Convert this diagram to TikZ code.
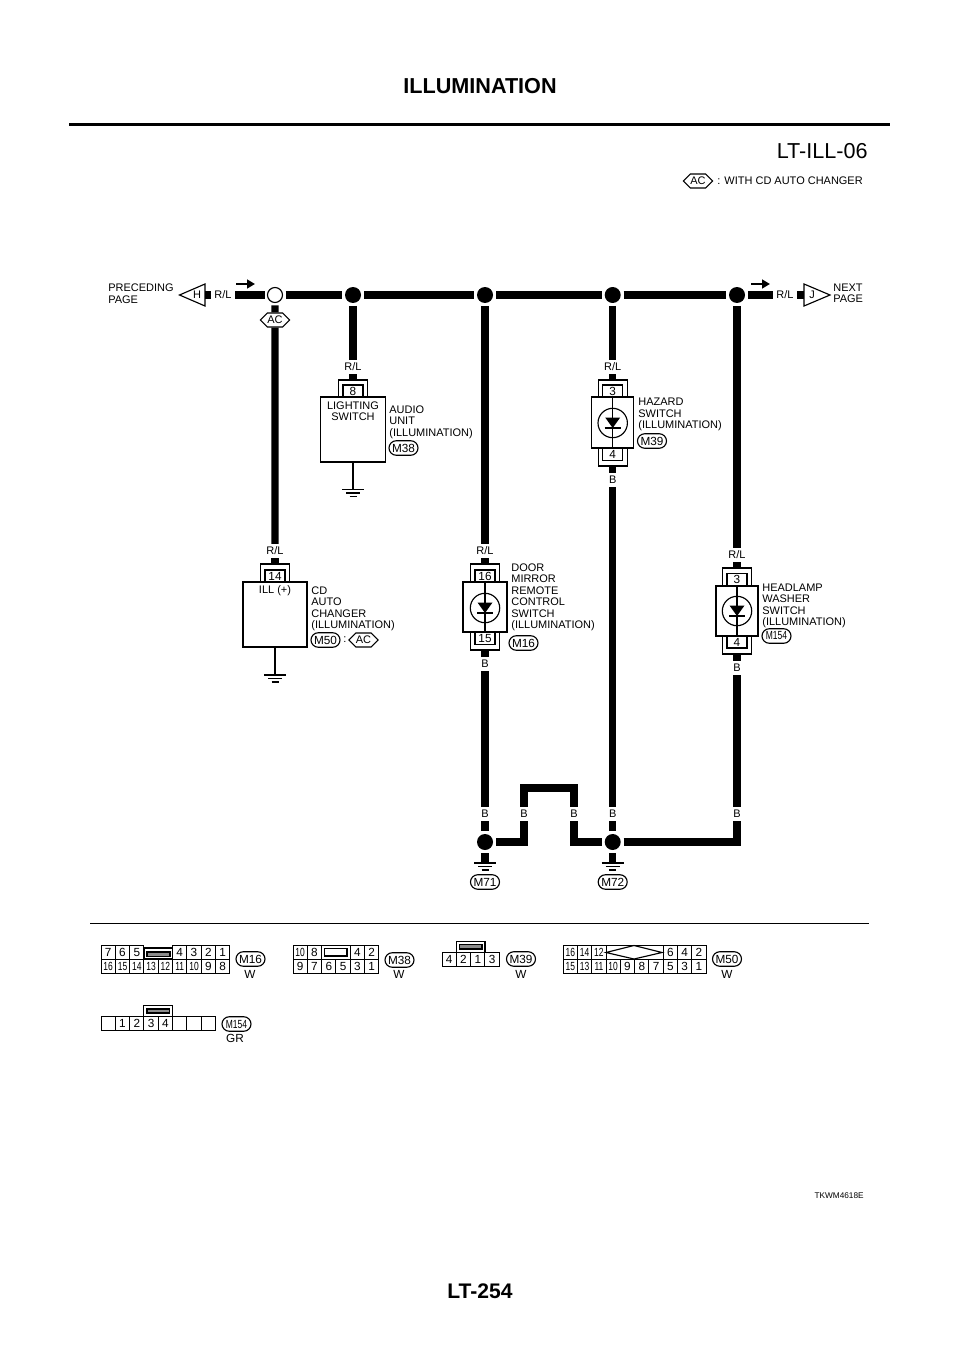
\documentclass[tikz,border=0pt]{standalone}
\usepackage{fontspec}
\setmainfont{Liberation Sans}
\usetikzlibrary{arrows.meta}
\usetikzlibrary{shapes.misc}
\usetikzlibrary{shapes.symbols}

\newcommand{\nar}[1]{\scalebox{0.72}[1]{#1}}

\tikzset{
  wire/.style={line width=4pt},
  conline/.style={line width=0.65pt},
  txt/.style={font=\fontsize{6.25}{6.55}\selectfont, inner sep=0pt},
  digit/.style={font=\fontsize{6.7}{7}\selectfont, inner sep=0pt},
  multi/.style={txt, align=left, anchor=north west},
  lbl/.style={txt, minimum width=0.48cm, minimum height=0.27cm},
  junc/.style={circle, fill=black, inner sep=0pt, minimum size=0.32cm, outer sep=0.06cm},
  juncopen/.style={circle, draw, fill=white, line width=0.65pt, inner sep=0pt, minimum size=0.3cm, outer sep=0.06cm},
  pill/.style={rounded rectangle, draw, conline, digit, minimum width=0.58cm, minimum height=0.29cm},
  hexa/.style={signal, signal to=west and east, signal pointer angle=90, draw, conline, txt, minimum width=0.58cm, minimum height=0.28cm},
  pin/.style={draw, conline, digit, minimum width=0.4cm, minimum height=0.24cm},
  unit/.style={draw, conline, inner sep=0pt},
  cell/.style={draw, line width=0.55pt, digit, minimum width=0.286cm, minimum height=0.28cm},
  smallarrow/.style={line width=1.1pt, -{Triangle[length=4.5pt,width=5pt]}},
}

\newcommand{\bracketup}[1]{\draw[conline] (#1) ++(-14.5,17.5) -- ++(0,-17.5) -- ++(29,0) -- ++(0,17.5);}
\newcommand{\bracketdown}[1]{\draw[conline] (#1) ++(-14.5,-17.5) -- ++(0,17.5) -- ++(29,0) -- ++(0,-17.5);}
\newcommand{\gndbars}[1]{\draw[conline] (#1) ++(-11,0) -- ++(22,0) ++(-18,3.5) -- ++(14,0) ++(-10.5,3.5) -- ++(7,0);}
\newcommand{\diode}[1]{
  \draw[conline] (#1) circle [radius=14.7];
  \fill (#1) ++(-7.5,-5.5) -- ++(15,0) -- ++(-7.5,10.5) -- cycle;
  \draw[line width=1pt] (#1) ++(-8,5.2) -- ++(16,0);
}

\begin{document}
\begin{tikzpicture}[x=0.02cm,y=-0.02cm]
\useasboundingbox (0,0) rectangle (960,1358);

% page head and foot
\node[font=\fontsize{12.3}{14}\selectfont\bfseries, inner sep=0pt] (title) at (480,86) {ILLUMINATION};
\draw[line width=1.7pt] (69,124.5)--(890,124.5);
\node[font=\fontsize{12.3}{14}\selectfont, inner sep=0pt, anchor=east] (sheet) at (868,151) {LT-ILL-06};
\node[hexa] (acKey) at (698,181) {AC};
\node[txt, anchor=west] (acText) at (717,181) {: WITH CD AUTO CHANGER};
\node[font=\fontsize{12}{14}\selectfont\bfseries, inner sep=0pt] (pageno) at (480,1291) {LT-254};
\node[font=\fontsize{4.7}{5}\selectfont, inner sep=0pt, anchor=east] (code) at (864,1196) {TKWM4618E};

% junctions
\node[juncopen] (jA) at (275,295) {};
\node[junc] (jB) at (353,295) {};
\node[junc] (jC) at (485,295) {};
\node[junc] (jD) at (612.7,295) {};
\node[junc] (jE) at (737,295) {};
\node[junc] (jF) at (485,842) {};
\node[junc] (jG) at (612.7,842) {};

% page connectors
\node[txt] (conH) at (197,295) {H};
\coordinate (baseH) at (205,295);
\draw[conline] (205,284)--(179.5,295)--(205,306)--cycle;
\node[txt, align=left, anchor=west] (prevPage) at (108,293.5) {PRECEDING\\PAGE};
\node[lbl] (rlH) at (223,295) {R/L};
\node[txt] (conJ) at (812,295) {J};
\coordinate (baseJ) at (804,295);
\draw[conline] (804,284)--(830,295)--(804,306)--cycle;
\node[txt, align=left, anchor=west] (nextPage) at (833,293.5) {NEXT\\PAGE};
\node[lbl] (rlJ) at (785,295) {R/L};

\coordinate (arrA) at (236,284);
\coordinate (arrB) at (255,284);
\coordinate (arrC) at (751,284);
\coordinate (arrD) at (770,284);
\draw[smallarrow] (arrA)--(arrB);
\draw[smallarrow] (arrC)--(arrD);

% CD changer
\node[hexa] (acA) at (275,320) {AC};
\node[lbl] (rlA) at (275,551) {R/L};
\coordinate (topM50) at (275,564);
\node[pin] (pin14) at (275,576) {14};
\node[unit, minimum width=1.28cm, minimum height=1.3cm] (boxM50) at (275,614.5) {};
\node[txt] (illPlus) at (275,591) {ILL (+)};
\node[multi] (nameM50) at (311,586) {CD\\AUTO\\CHANGER\\(ILLUMINATION)};
\node[pill] (pillM50) at (325.5,640) {M50};
\node[txt] (colon) at (345,640) {:};
\node[hexa] (acB) at (363.5,640) {AC};
\coordinate (gndM50) at (275,675);
\bracketup{topM50}
\draw[conline] (boxM50.south)--(gndM50);
\gndbars{gndM50}

% audio unit
\node[lbl] (rlB) at (353,367) {R/L};
\coordinate (topM38) at (353,380);
\node[pin] (pin8) at (353,391) {8};
\node[unit, minimum width=1.3cm, minimum height=1.3cm] (boxM38) at (353,429.5) {};
\node[txt, align=center, anchor=north] (nameSwitch) at (353,401) {LIGHTING\\SWITCH};
\node[multi] (nameM38) at (389,405) {AUDIO\\UNIT\\(ILLUMINATION)};
\node[pill] (pillM38) at (403.5,448) {M38};
\coordinate (gndM38) at (353,489.5);
\bracketup{topM38}
\draw[conline] (boxM38.south)--(gndM38);
\gndbars{gndM38}

% door mirror switch
\node[lbl] (rlC) at (485,551) {R/L};
\coordinate (topM16) at (485,564);
\node[pin] (pin16) at (485,576) {16};
\node[unit, minimum width=0.88cm, minimum height=1cm] (boxM16) at (485,607) {};
\node[pin] (pin15) at (485,638.5) {15};
\coordinate (botM16) at (485,650);
\node[lbl] (bC) at (485,664) {B};
\node[multi] (nameM16) at (511,563) {DOOR\\MIRROR\\REMOTE\\CONTROL\\SWITCH\\(ILLUMINATION)};
\node[pill] (pillM16) at (523.5,643) {M16};
\bracketup{topM16}
\bracketdown{botM16}
\draw[conline] (boxM16.north)--(boxM16.south);
\diode{485,608}

% hazard switch
\node[lbl] (rlD) at (612.7,367) {R/L};
\coordinate (topM39) at (612.7,380);
\node[pin] (pin3a) at (612.7,391) {3};
\node[unit, minimum width=0.84cm, minimum height=1.02cm] (boxM39) at (612.7,422.5) {};
\node[pin] (pin4a) at (612.7,454.5) {4};
\coordinate (botM39) at (612.7,466);
\node[lbl] (bD) at (612.7,480) {B};
\node[multi] (nameM39) at (638,398) {HAZARD\\SWITCH\\(ILLUMINATION)};
\node[pill] (pillM39) at (652,441) {M39};
\bracketup{topM39}
\bracketdown{botM39}
\draw[conline] (boxM39.north)--(boxM39.south);
\diode{612.7,423}

% headlamp washer switch
\node[lbl] (rlE) at (737,555) {R/L};
\coordinate (topM154) at (737,568);
\node[pin] (pin3b) at (737,579.5) {3};
\node[unit, minimum width=0.84cm, minimum height=1cm] (boxM154) at (737,611) {};
\node[pin] (pin4b) at (737,642) {4};
\coordinate (botM154) at (737,654);
\node[lbl] (bE) at (737,668) {B};
\node[multi] (nameM154) at (762,583.5) {HEADLAMP\\WASHER\\SWITCH\\(ILLUMINATION)};
\node[pill] (pillM154) at (776.5,636) {\nar{M154}};
\bracketup{topM154}
\bracketdown{botM154}
\draw[conline] (boxM154.north)--(boxM154.south);
\diode{737,611}

% bottom labels and earths
\node[lbl] (bF) at (485,814) {B};
\node[lbl] (bJogA) at (524,814) {B};
\node[lbl] (bJogB) at (574,814) {B};
\node[lbl] (bG) at (612.7,814) {B};
\node[lbl] (bH) at (737,814) {B};
\coordinate (jogA) at (524,788);
\coordinate (jogB) at (574,788);
\coordinate (gndF) at (485,863);
\coordinate (gndG) at (612.7,863);
\gndbars{gndF}
\gndbars{gndG}
\node[pill] (pillM71) at (485,882) {M71};
\node[pill] (pillM72) at (612.7,882) {M72};

% wires
\draw[wire] (baseH)--(rlH);
\draw[wire] (rlH)--(jA);
\draw[wire] (jA)--(jB);
\draw[wire] (jB)--(jC);
\draw[wire] (jC)--(jD);
\draw[wire] (jD)--(jE);
\draw[wire] (jE)--(rlJ);
\draw[wire] (rlJ)--(baseJ);
\draw[wire] (jA)--(acA);
\draw[wire] (acA)--(rlA);
\draw[wire] (rlA)--(topM50);
\draw[wire] (jB)--(rlB);
\draw[wire] (rlB)--(topM38);
\draw[wire] (jC)--(rlC);
\draw[wire] (rlC)--(topM16);
\draw[wire] (botM16)--(bC);
\draw[wire] (bC)--(bF);
\draw[wire] (bF)--(jF);
\draw[wire] (jD)--(rlD);
\draw[wire] (rlD)--(topM39);
\draw[wire] (botM39)--(bD);
\draw[wire] (bD)--(bG);
\draw[wire] (bG)--(jG);
\draw[wire] (jE)--(rlE);
\draw[wire] (rlE)--(topM154);
\draw[wire] (botM154)--(bE);
\draw[wire] (bE)--(bH);
\draw[wire] (jF) -| (bJogA);
\draw[wire] (bJogA)--(jogA)--(jogB)--(bJogB);
\draw[wire] (bJogB) |- (jG);
\draw[wire] (jG) -| (bH);
\draw[wire] (jF)--(gndF);
\draw[wire] (jG)--(gndG);

% connector faces
\draw[line width=0.85pt] (90,923.5)--(869,923.5);

% M16 face
\foreach \c/\t in {0/7,1/6,2/5,5/4,6/3,7/2,8/1}
  \node[cell] (faceA\c) at ({108.2+14.3*\c},952) {\t};
\foreach \c/\t in {0/\nar{16},1/\nar{15},2/\nar{14},3/\nar{13},4/\nar{12},5/\nar{11},6/\nar{10},7/9,8/8}
  \node[cell] (faceB\c) at ({108.2+14.3*\c},966) {\t};
\draw[conline] (144,948) rectangle (172.5,959);
\draw[conline, fill=black!45] (147,952) rectangle (170,956.5);
\node[pill] (faceM16) at (250.5,959) {M16};
\node[digit] (colM16) at (250,974) {W};

% M38 face
\foreach \c/\t in {0/\nar{10},1/8,4/4,5/2}
  \node[cell] (faceC\c) at ({300.2+14.3*\c},952) {\t};
\foreach \c/\t in {0/9,1/7,2/6,3/5,4/3,5/1}
  \node[cell] (faceD\c) at ({300.2+14.3*\c},966) {\t};
\draw[line width=0.55pt] (322,945)--(351,945);
\draw[line width=0.9pt] (324.5,948.5) rectangle (347,956);
\node[pill] (faceM38) at (399.5,960) {M38};
\node[digit] (colM38) at (399,974) {W};

% M39 face
\foreach \c/\t in {0/4,1/2,2/1,3/3}
  \node[cell] (faceE\c) at ({449.2+14.3*\c},959) {\t};
\draw[conline] (456.5,952)--(456.5,941.5)--(485,941.5)--(485,952);
\draw[conline, fill=black!45] (459.5,944.5) rectangle (482,949);
\node[pill] (faceM39) at (521,959) {M39};
\node[digit] (colM39) at (521,974) {W};

% M50 face
\foreach \c/\t in {0/\nar{16},1/\nar{14},2/\nar{12},7/6,8/4,9/2}
  \node[cell] (faceF\c) at ({570.3+14.3*\c},952) {\t};
\foreach \c/\t in {0/\nar{15},1/\nar{13},2/\nar{11},3/\nar{10},4/9,5/8,6/7,7/5,8/3,9/1}
  \node[cell] (faceG\c) at ({570.3+14.3*\c},966) {\t};
\draw[line width=0.55pt] (606,945)--(663,945);
\draw[conline] (606,952.5)--(634,945.5)--(662,952.5)--(634,959)--cycle;
\node[pill] (faceM50) at (727,959) {M50};
\node[digit] (colM50) at (727,974) {W};

% M154 face
\foreach \c/\t in {0/{},1/1,2/2,3/3,4/4,5/{},6/{},7/{}}
  \node[cell] (faceH\c) at ({108.2+14.3*\c},1023.5) {\t};
\draw[conline] (143.5,1016)--(143.5,1005.5)--(172.5,1005.5)--(172.5,1016);
\draw[conline, fill=black!45] (147,1009) rectangle (169.5,1013);
\node[pill] (faceM154) at (236.5,1024) {\nar{M154}};
\node[digit] (colM154) at (235,1038) {GR};

\end{tikzpicture}
\end{document}
